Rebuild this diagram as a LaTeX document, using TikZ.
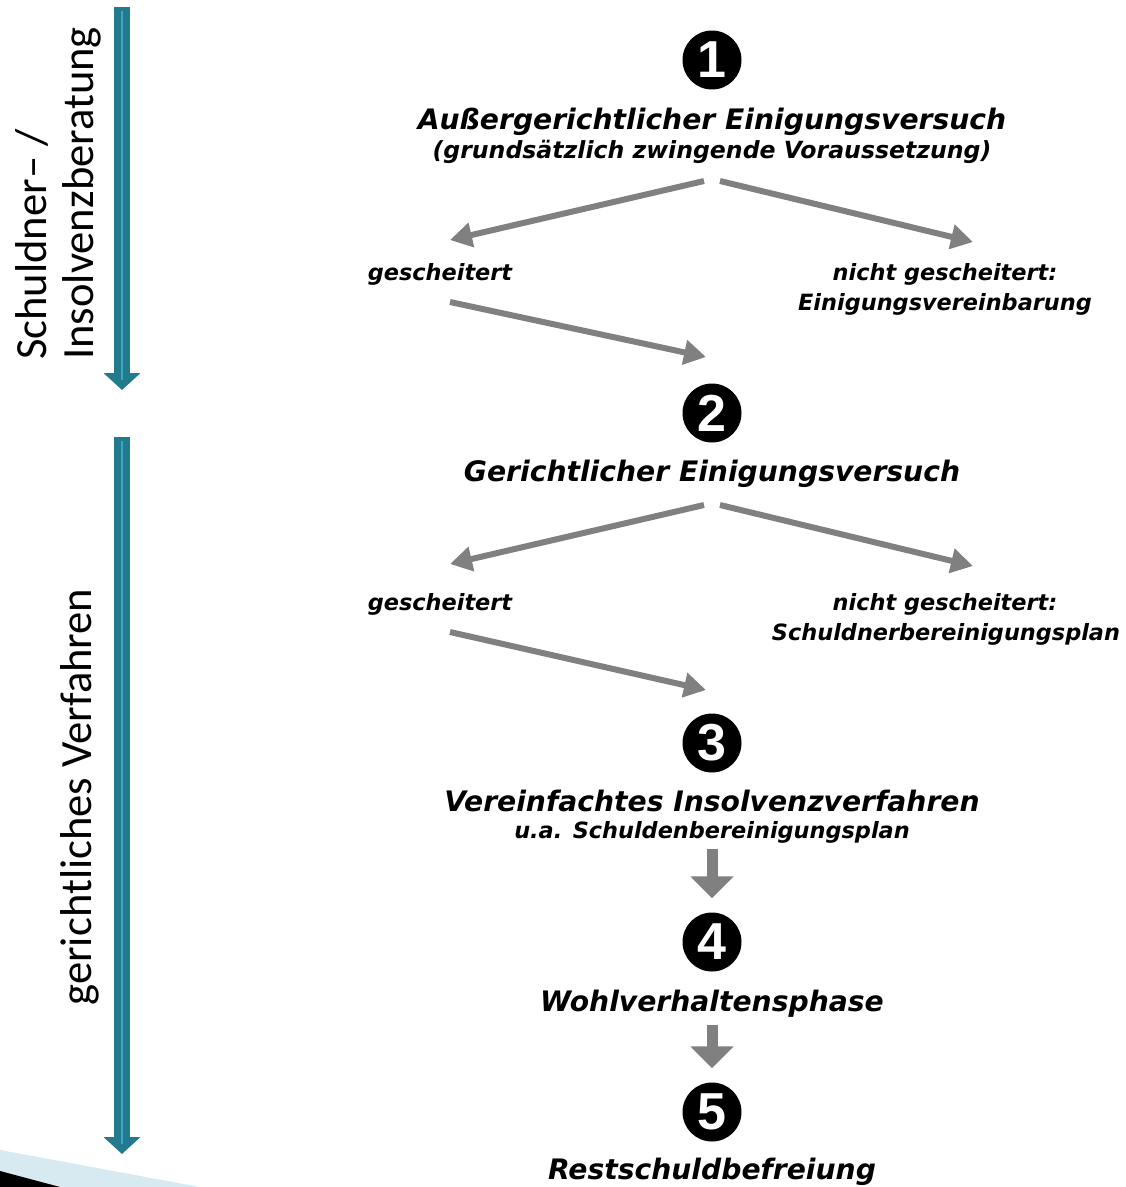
\documentclass[tikz,border=0pt]{standalone}
\usepackage{fontspec}
\setmainfont{DejaVu Sans}
\newfontfamily\leftfont{Carlito}
\newfontfamily\numfont{Liberation Sans}
\usetikzlibrary{arrows.meta}
\definecolor{tealA}{HTML}{217A8D}
\definecolor{tealB}{HTML}{3AA6C0}
\definecolor{grayarr}{HTML}{808080}
\definecolor{bandblue}{HTML}{D7EAF2}
\begin{document}
\begin{tikzpicture}[x=1pt,y=-1pt,
  numc/.style={circle, fill=black, text=white, minimum size=59pt, inner sep=0pt,
    font=\numfont\bfseries\fontsize{52}{52}\selectfont},
  ttl/.style={anchor=base, inner sep=0pt, font=\bfseries\itshape\fontsize{28.2}{30}\selectfont},
  subt/.style={anchor=base, inner sep=0pt, font=\bfseries\itshape\fontsize{22.4}{24}\selectfont},
  lbl/.style={anchor=base, inner sep=0pt, font=\bfseries\itshape\fontsize{22.4}{24}\selectfont},
  garr/.style={draw=grayarr, line width=6pt, -{Triangle[width=24pt,length=22pt]}},
  blockarr/.style={draw=grayarr, line width=11pt, -{Triangle[width=42pt,length=22pt]}},
  tealarr/.style={draw=tealA, line width=16pt, -{Triangle[width=36pt,length=17pt]}},
  tealin/.style={draw=tealB, line width=1.2pt},
  sidetxt/.style={rotate=90, inner sep=0pt, align=left,
    font=\leftfont\fontsize{44.6}{47}\selectfont}
]
\useasboundingbox (0,0) rectangle (1126,1187);
\fill[white] (0,0) rectangle (1126,1187);

% bottom-left decoration
\fill[bandblue] (0,1150) -- (200,1187) -- (0,1187) -- cycle;
\fill[black] (0,1171) -- (60,1187) -- (0,1187) -- cycle;

% teal side arrows
\coordinate (t1s) at (122,7);
\coordinate (t1e) at (122,390);
\coordinate (t2s) at (122,437);
\coordinate (t2e) at (122,1154);
\draw[tealarr] (t1s) -- (t1e);
\draw[tealin] ([yshift=-4pt]t1s) -- ([yshift=10pt]t1e);
\draw[tealarr] (t2s) -- (t2e);
\draw[tealin] ([yshift=-4pt]t2s) -- ([yshift=10pt]t2e);

% side texts
\node[sidetxt, anchor=south west] (side1) at (101,360) {Schuldner– /\\Insolvenzberatung};
\node[sidetxt, anchor=center] (side2) at (80,797) {gerichtliches Verfahren};

% step 1
\node[numc] (n1) at (712,60) {1};
\node[ttl] (t1) at (712,129) {Außergerichtlicher Einigungsversuch};
\node[subt, font=\bfseries\itshape\fontsize{23.6}{25}\selectfont] (s1) at (712,158) {(grundsätzlich zwingende Voraussetzung)};
\node[lbl] (g1) at (440,280) {gescheitert};
\node[lbl] (ng1) at (945,280) {nicht gescheitert:};
\node[lbl] (ev1) at (945,310) {Einigungsvereinbarung};

\coordinate (a1s) at (704,181); \coordinate (a1e) at (450,240);
\coordinate (a2s) at (720,181); \coordinate (a2e) at (973,242);
\coordinate (a3s) at (450,302); \coordinate (a3e) at (706,357);
\draw[garr] (a1s) -- (a1e);
\draw[garr] (a2s) -- (a2e);
\draw[garr] (a3s) -- (a3e);

% step 2
\node[numc] (n2) at (712,413) {2};
\node[ttl] (t2) at (712,481) {Gerichtlicher Einigungsversuch};
\node[lbl] (g2) at (440,610) {gescheitert};
\node[lbl] (ng2) at (945,610) {nicht gescheitert:};
\node[lbl] (sp2) at (946,640) {Schuldnerbereinigungsplan};

\coordinate (b1s) at (704,505); \coordinate (b1e) at (450,564);
\coordinate (b2s) at (720,505); \coordinate (b2e) at (973,566);
\coordinate (b3s) at (450,632); \coordinate (b3e) at (706,690);
\draw[garr] (b1s) -- (b1e);
\draw[garr] (b2s) -- (b2e);
\draw[garr] (b3s) -- (b3e);

% step 3
\node[numc] (n3) at (712,743) {3};
\node[ttl] (t3) at (712,811) {Vereinfachtes Insolvenzverfahren};
\node[subt] (s3) at (712,838) {u.a. Schuldenbereinigungsplan};

% step 4
\node[numc] (n4) at (712,942) {4};
\node[ttl] (t4) at (712,1011) {Wohlverhaltensphase};

% step 5
\node[numc] (n5) at (712,1112) {5};
\node[ttl] (t5) at (712,1179) {Restschuldbefreiung};

% block arrows
\draw[blockarr] ([yshift=-6pt]s3.south -| n4) -- ([yshift=14pt]n4.north);
\draw[blockarr] ([yshift=-8pt]t4.south -| n5) -- ([yshift=14pt]n5.north);
\end{tikzpicture}
\end{document}
